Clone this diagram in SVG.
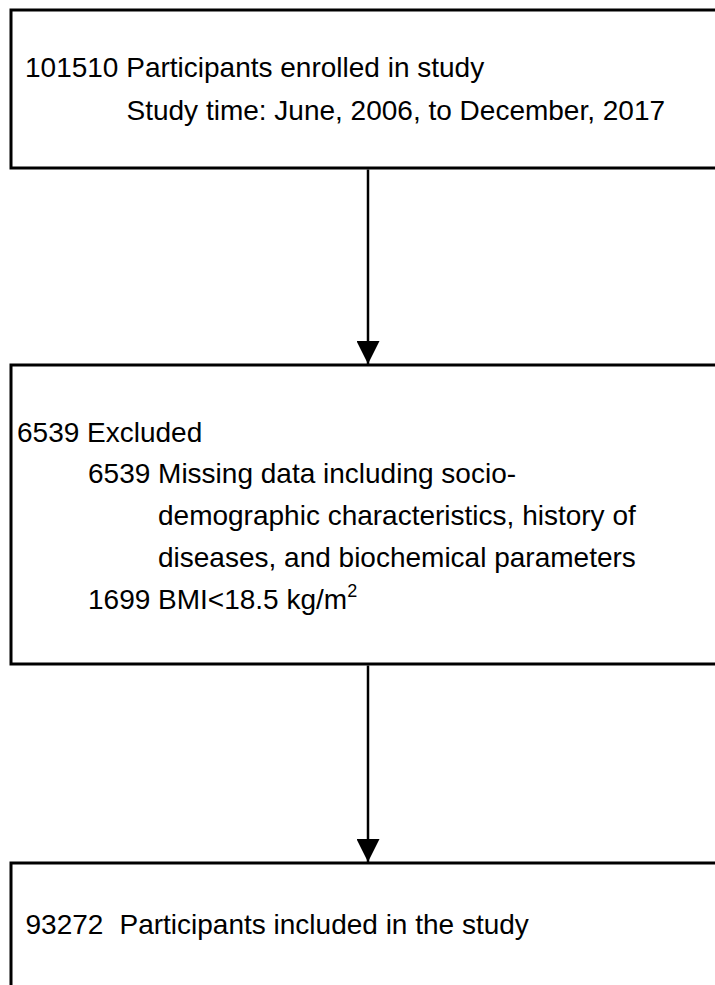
<svg xmlns="http://www.w3.org/2000/svg" width="715" height="985" viewBox="0 0 715 985">
  <style>
    .box { fill: #ffffff; stroke: #000000; stroke-width: 3; }
    .t { font-family: "Liberation Sans", Arial, sans-serif; font-size: 28px; fill: #000000; }
    .conn { stroke: #000000; stroke-width: 2.5; fill: none; }
  </style>
  <defs>
    <marker id="arrow" viewBox="0 0 23 23" refX="23" refY="11.5" markerWidth="23" markerHeight="23" markerUnits="userSpaceOnUse" orient="auto">
      <path d="M0,0 L23,11.5 L0,23 Z" fill="#000000"/>
    </marker>
  </defs>
  <rect x="0" y="0" width="715" height="985" fill="#ffffff"/>

  <g id="node-enrolled">
    <rect class="box" x="11" y="10" width="720" height="158"/>
    <text class="t" x="25" y="77">101510 Participants enrolled in study</text>
    <text class="t" x="126.5" y="120">Study time: June, 2006, to December, 2017</text>
  </g>

  <g id="node-excluded">
    <rect class="box" x="11" y="365" width="720" height="299"/>
    <text class="t" x="17" y="442">6539 Excluded</text>
    <text class="t" x="88" y="483">6539 Missing data including socio-</text>
    <text class="t" x="158" y="525">demographic characteristics, history of</text>
    <text class="t" x="158" y="567">diseases, and biochemical parameters</text>
    <text class="t" x="88" y="609">1699 BMI&lt;18.5 kg/m<tspan font-size="18" dy="-12">2</tspan></text>
  </g>

  <g id="node-included">
    <rect class="box" x="11" y="863" width="720" height="140"/>
    <text class="t" x="25.5" y="934">93272<tspan x="119.5">Participants included in the study</tspan></text>
  </g>

  <g id="connectors">
    <line class="conn" x1="368" y1="169.5" x2="368" y2="364" marker-end="url(#arrow)"/>
    <line class="conn" x1="368" y1="665.5" x2="368" y2="862" marker-end="url(#arrow)"/>
  </g>
</svg>
